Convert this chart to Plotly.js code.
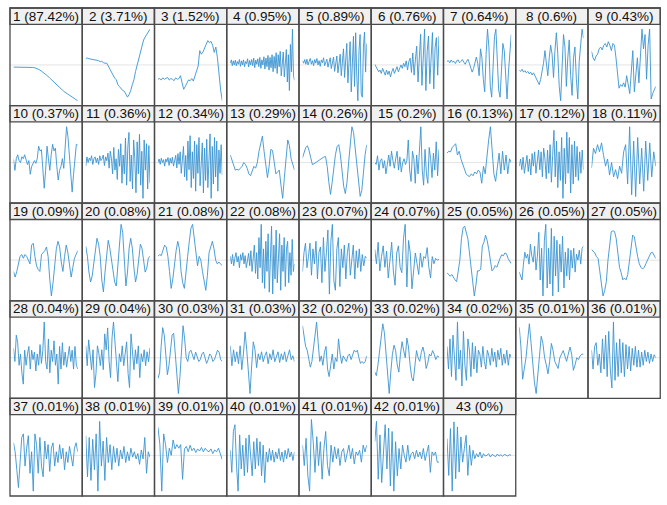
<!DOCTYPE html>
<html><head><meta charset="utf-8">
<script src="https://cdn.plot.ly/plotly-3.0.1.min.js"></script>
<style>html,body{margin:0;padding:0;background:#fff}</style></head>
<body><div id="chart" style="width:667px;height:505px"></div>
<script>
const pct = ["87.42","3.71","1.52","0.95","0.89","0.76","0.64","0.6","0.43","0.37","0.36","0.34","0.29","0.26","0.2","0.13","0.12","0.11","0.09","0.08","0.08","0.08","0.07","0.07","0.05","0.05","0.05","0.04","0.04","0.03","0.03","0.02","0.02","0.02","0.01","0.01","0.01","0.01","0.01","0.01","0.01","0.01","0"];

const s1 = [-0.06,-0.06,-0.05,-0.06,-0.06,-0.06,-0.06,-0.06,-0.07,-0.07,-0.08,-0.1,-0.13,-0.17,-0.21,-0.26,-0.31,-0.37,-0.43,-0.48,-0.54,-0.6,-0.66,-0.71,-0.76,-0.8,-0.85,-0.9,-0.94,-0.97,-1.0];
const s2 = [0.2,0.21,0.19,0.18,0.17,0.17,0.15,0.14,0.13,0.1,0.11,0.07,0.05,0.06,-0.03,-0.12,-0.22,-0.33,-0.4,-0.45,-0.6,-0.66,-0.72,-0.78,-0.8,-0.88,-0.98,-0.9,-0.78,-0.6,-0.45,-0.2,0.0,0.2,0.4,0.6,0.76,0.85,0.92,1.0,1.09];
const s3 = [-0.4,-0.38,-0.42,-0.36,-0.4,-0.38,-0.35,-0.42,-0.38,-0.4,-0.44,-0.36,-0.4,-0.38,-0.3,-0.5,-0.68,-0.6,-0.5,-0.42,-0.44,-0.38,-0.45,-0.32,-0.18,-0.03,0.4,0.3,0.36,0.5,0.58,0.68,0.62,0.66,0.55,0.35,0.5,0.2,-0.3,-0.7,-1.0];
const s4 = [0.05,0.15,-0.02,0.12,0.0,0.14,-0.03,0.1,0.02,0.16,-0.04,0.12,0.0,0.15,-0.05,0.1,0.04,0.18,-0.06,0.13,0.0,0.16,-0.02,0.2,-0.08,0.14,0.02,0.18,-0.05,0.22,-0.1,0.15,0.0,0.24,-0.12,0.2,-0.05,0.28,-0.15,0.22,-0.08,0.3,-0.2,0.25,-0.1,0.36,-0.25,0.3,-0.05,0.4,-0.32,0.2,0.38,-0.35,0.1,0.45,-0.5,0.3,-0.75,0.6,-0.2,1.05,-0.3,-0.45];
const s5 = [0.12,0.05,0.15,0.02,0.16,0.0,0.1,0.18,0.02,0.12,-0.02,0.15,0.05,0.18,0.0,0.12,-0.04,0.14,0.06,0.2,-0.02,0.1,0.16,-0.06,0.08,0.2,-0.1,0.05,0.22,-0.18,0.1,0.25,-0.22,0.0,0.3,-0.3,0.15,0.45,-0.35,0.2,0.6,-0.5,0.1,0.65,-0.75,0.3,0.8,-0.6,0.9,-0.3,-1.0,0.4,0.85,-0.8,-0.9,0.5,0.92,-0.2,0.6];
const s6 = [0.02,-0.05,-0.12,-0.2,-0.15,-0.25,-0.1,-0.22,-0.3,-0.15,-0.28,-0.18,-0.35,-0.2,-0.1,-0.25,-0.12,-0.05,-0.2,-0.08,0.0,-0.1,0.05,-0.05,0.12,-0.15,0.1,0.2,-0.22,0.35,-0.3,0.15,0.55,-0.5,0.3,0.9,-0.6,0.2,1.05,-0.75,0.4,0.85,-0.55,0.2,0.95,-0.7,0.5,0.8,-0.3,0.85];
const s7 = [0.1,0.12,0.06,0.14,0.08,0.1,0.04,0.12,0.14,0.06,0.1,0.15,0.08,0.02,0.1,0.16,0.05,-0.05,-0.2,-0.1,0.1,0.22,0.05,-0.3,0.45,0.2,-0.4,-0.75,0.3,1.0,0.5,-0.6,-0.9,0.2,0.8,1.0,0.2,-0.7,-0.9,-0.3,0.6,0.4,-0.5,-0.95,-0.2,0.5,0.85];
const s8 = [-0.15,-0.18,-0.12,-0.2,-0.16,-0.22,-0.18,-0.25,-0.2,-0.28,-0.22,-0.3,-0.35,-0.45,-0.55,-0.4,-0.2,0.05,0.4,0.1,-0.3,0.2,0.55,0.3,-0.35,0.4,0.9,0.3,-0.6,-1.0,0.1,0.85,0.5,-0.6,0.2,0.7,-0.3,-0.85,0.2,0.5,-0.4,-0.95,0.1,0.7,1.0,0.75];
const s9 = [0.38,0.2,0.12,0.25,0.3,0.45,0.5,0.42,0.55,0.6,0.5,0.65,0.55,0.4,0.6,0.55,0.2,-0.3,-0.65,-0.55,-0.6,-0.5,-0.62,-0.3,-0.6,-0.8,-0.2,0.4,-0.75,-0.3,0.2,-0.5,0.3,1.0,0.45,0.85,-0.4,0.55,1.0,-0.95,-0.8,-0.7,-0.6];
const s10 = [0.08,-0.2,0.1,0.2,0.05,0.0,0.15,0.1,0.2,0.05,-0.05,0.05,-0.3,-0.1,0.0,0.05,-0.02,0.1,0.42,0.3,0.33,-0.2,-0.66,-0.2,0.42,0.1,-0.2,0.2,0.47,0.3,0.37,-0.1,-0.45,-0.2,-0.1,0.1,-0.15,0.4,0.92,0.66,0.2,-0.4,-0.76,-0.3,0.2,0.47,0.45];
const s11 = [-0.1,0.15,0.0,0.12,0.05,0.18,-0.05,0.1,0.15,0.0,0.12,-0.05,0.18,0.05,0.1,0.2,-0.08,0.15,0.05,0.25,-0.15,0.3,0.1,-0.3,0.4,-0.2,0.1,-0.45,0.35,-0.1,0.5,-0.55,0.2,-0.3,0.65,-0.6,0.4,0.8,-0.5,0.2,-0.7,0.6,0.1,-0.8,0.55,-0.3,0.75,-0.6,0.3,-0.95,0.6,-0.2,0.5,-0.7,0.45,-0.55];
const s12 = [0.0,0.1,-0.05,0.12,0.0,0.08,-0.1,0.1,0.02,0.14,-0.08,0.12,-0.02,0.15,-0.1,0.05,0.2,-0.15,0.25,-0.05,0.3,-0.3,0.15,0.45,-0.4,0.2,-0.5,0.6,-0.2,0.75,-0.7,0.3,-0.45,0.6,-0.8,0.5,-0.3,0.7,-0.65,0.2,0.55,-0.85,0.4,-0.5,0.65,-0.7,0.3,0.8,-1.0,0.45,-0.6,0.7,-0.4,0.6,-0.8,0.35,-0.3,0.5,-0.35];
const s13 = [0.2,0.05,-0.05,-0.2,-0.18,-0.2,-0.15,-0.1,0.0,-0.05,-0.15,-0.3,-0.35,-0.2,-0.1,-0.15,0.0,0.3,0.55,0.7,0.3,-0.1,-0.4,-0.1,0.35,0.32,0.0,-0.3,-0.25,-0.2,-0.6,-0.95,-0.4,0.2,0.6,0.45,0.1,-0.05,-0.2];
const s14 = [0.12,0.25,0.38,0.42,0.3,0.12,-0.05,-0.03,0.0,0.03,0.06,0.08,0.1,0.14,0.15,-0.1,-0.5,-0.8,-0.5,-0.1,0.2,0.4,0.45,0.2,-0.2,-0.6,-0.78,-0.5,0.0,0.5,0.9,0.75,0.35,-0.1,-0.5,-0.85,-0.7,-0.2,0.2,0.45];
const s15 = [0.0,-0.05,0.18,-0.2,0.05,0.1,-0.15,0.05,-0.3,0.0,0.2,-0.1,0.3,0.05,-0.15,0.1,0.3,-0.2,0.15,-0.25,0.0,0.1,-0.05,0.05,0.6,-0.2,-0.5,0.3,0.1,-0.55,0.2,-0.3,0.5,0.95,-0.2,-0.6,0.35,-0.3,-0.55,0.4,0.1,-0.4,0.25,-0.2,0.55,-0.35,0.35];
const s16 = [0.25,0.3,0.28,0.4,0.45,0.5,0.2,0.3,0.1,-0.05,-0.15,-0.3,-0.35,-0.37,-0.3,-0.35,-0.25,-0.3,-0.2,-0.25,-0.55,-0.1,-0.3,0.2,0.6,0.95,0.2,-0.3,-0.5,-0.1,0.25,-0.3,0.3,-0.2,0.2,-0.3,0.1,0.0];
const s17 = [-0.1,0.1,-0.2,0.15,-0.3,0.05,0.2,-0.25,0.1,-0.35,0.25,-0.1,0.3,-0.3,0.15,0.35,-0.2,0.3,-0.4,0.4,0.1,-0.45,0.35,-0.3,0.5,-0.55,0.2,0.9,-0.4,0.6,-0.7,0.3,-0.5,0.7,-1.0,0.4,-0.6,0.85,-0.3,0.7,-0.85,0.5,-0.6,0.6,-0.4,0.45,-0.5,0.3,-0.3,0.35,-0.2];
const s18 = [-0.15,0.4,0.25,0.5,0.3,0.55,0.2,-0.1,0.1,-0.35,0.0,-0.4,-0.2,-0.45,-0.1,-0.3,0.3,0.5,-0.6,1.0,-0.9,0.6,-0.95,0.7,-0.6,0.4,-0.8,0.6,-0.5,0.55,-0.4,0.3,-0.1];
const s19 = [-0.3,-0.45,-0.3,-0.05,0.1,0.15,0.05,0.15,0.1,0.0,-0.1,0.4,0.45,0.1,-0.15,-0.25,-0.3,0.15,0.2,0.25,0.35,0.1,-0.5,-0.95,-0.6,-0.2,0.3,0.5,0.35,-0.05,-0.3,0.1,0.4,0.2,-0.2,-0.45,-0.2,0.05,0.15,0.25];
const s20 = [0.35,0.1,-0.3,-0.55,-0.4,-0.1,0.25,0.55,0.4,0.1,-0.5,-0.8,-0.3,0.2,0.5,0.3,0.05,-0.3,-0.55,-0.65,-0.2,0.4,0.9,0.7,0.1,-0.65,-0.3,0.3,0.55,0.3,-0.2,-0.55,-0.35,0.05,0.4,0.3,-0.05,-0.3,-0.2,0.05,0.1];
const s21 = [0.1,0.15,0.12,0.25,0.4,0.35,0.1,-0.3,-0.75,-0.5,-0.1,0.25,0.5,0.3,-0.3,-0.6,-0.75,-0.4,0.1,0.5,0.85,0.95,0.6,0.1,-0.15,0.1,0.0,-0.3,-0.6,-0.8,-0.4,0.2,0.35,0.5,0.3,0.0,-0.1,-0.05,-0.1,-0.15];
const s22 = [0.1,-0.1,0.15,-0.15,0.05,0.2,-0.05,0.1,-0.2,0.15,0.0,0.2,-0.1,0.12,-0.2,0.05,0.18,-0.15,0.25,-0.3,0.1,0.4,-0.35,0.2,-0.5,0.6,-0.2,0.95,-0.6,0.3,-0.75,0.5,-0.3,0.7,-0.85,0.2,0.9,-0.9,0.4,-0.5,0.8,-0.6,0.2,0.7,-0.8,0.4,-0.3,0.6,-0.7,0.3,0.5,-0.6,0.2,-0.4,0.55,-0.3,-0.1];
const s23 = [-0.3,0.2,0.45,-0.2,0.1,0.45,-0.4,0.3,-0.1,0.5,-0.5,0.2,0.35,-0.6,0.6,-0.3,0.2,0.8,-0.9,0.5,0.95,-0.55,-0.8,0.3,0.6,-0.7,0.3,-0.2,0.4,-0.5,0.2,0.45,-0.4,0.1,0.4,-0.5,0.25,-0.2,0.3,-0.3,0.15,-0.15,0.1,0.05];
const s24 = [0.3,-0.1,0.5,-0.3,0.1,0.4,-0.2,0.25,-0.5,0.1,0.5,-0.3,-0.7,0.2,0.4,-0.2,-0.35,0.6,1.0,-0.75,0.55,0.2,-0.8,-0.3,0.2,-0.1,-0.4,0.2,-0.2,0.1,0.05,0.35,-0.2,-0.5,0.1,-0.1,0.05,0.0,0.02];
const s25 = [-0.35,-0.4,-0.45,-0.4,-0.5,-0.55,-0.6,-0.35,0.0,0.6,0.9,0.95,0.8,0.6,0.2,-0.25,-0.7,-1.0,-0.7,-0.3,-0.3,-0.25,0.4,0.5,0.7,0.55,0.3,0.0,-0.3,-0.25,-0.15,-0.2,-0.05,0.05,0.15,0.12,0.2,0.18,0.05,-0.05,-0.1];
const s26 = [-0.3,-0.4,-0.5,-0.1,0.2,0.05,0.15,-0.1,0.4,0.1,-0.05,0.35,-0.25,0.1,0.7,-0.5,0.3,-0.9,0.5,0.9,-0.7,0.3,-0.6,0.8,-0.9,0.6,-0.4,0.5,-0.8,0.4,-0.3,0.6,-0.7,0.2,-0.4,0.3,-0.5,0.25,-0.2,0.3,-0.3,0.15,0.0,0.25,-0.1,0.3,0.35];
const s27 = [0.3,0.25,0.2,0.1,0.05,-0.3,-0.7,-1.0,-0.85,-0.6,0.0,0.4,0.8,0.82,0.8,0.6,0.2,-0.2,-0.35,-0.55,-0.5,-0.55,-0.4,0.0,0.3,0.7,0.65,0.3,0.1,-0.1,-0.2,-0.25,-0.2,-0.1,0.0,0.1,0.2,0.22,0.15,0.05];
const s28 = [0.25,-0.1,0.6,0.4,-0.2,0.1,-0.4,-0.7,0.2,-0.2,0.1,0.3,-0.3,0.2,-0.05,0.15,-0.35,0.1,-0.2,0.35,-0.15,0.2,0.95,-0.1,-0.3,0.5,-0.4,0.2,-0.1,0.45,-0.2,0.1,-0.7,0.3,-0.3,0.4,-0.2,0.15,-0.25,0.1,0.3,-0.1,0.2,-0.3,0.3,-0.2,-0.3];
const s29 = [0.3,-0.2,0.45,0.1,-0.3,0.2,-0.75,-0.4,0.3,0.1,-0.2,0.2,-0.3,0.6,0.2,0.75,-0.1,-0.5,0.5,0.9,0.4,-0.2,-0.6,0.1,-0.1,0.3,-0.2,0.1,0.4,-0.4,-0.75,0.6,0.1,-0.3,0.2,-0.15,0.3,-0.5,0.1,-0.1,0.2,-0.2,0.15,-0.1,0.25];
const s30 = [-0.55,-0.4,0.3,0.8,0.6,0.0,-0.45,-0.2,0.2,0.6,0.65,0.1,-0.5,-0.95,-0.5,0.3,0.85,0.5,0.0,-0.1,0.15,0.2,0.05,-0.05,0.15,0.05,-0.1,-0.05,0.1,0.15,0.0,-0.15,-0.05,0.1,0.05,-0.1,-0.05,0.1,0.2,0.15,-0.05,-0.1];
const s31 = [0.3,-0.2,0.2,-0.1,0.15,-0.15,0.3,-0.3,0.1,0.65,0.2,-0.4,-0.9,-0.2,0.4,0.2,-0.25,0.1,-0.05,0.15,-0.1,0.05,0.15,-0.15,0.1,-0.05,0.2,-0.1,0.05,0.15,-0.12,0.1,-0.05,0.15,-0.1,0.08,0.2,-0.05,0.05,-0.1];
const s32 = [0.85,0.6,0.3,0.2,0.0,-0.25,-0.1,0.3,0.6,0.95,0.4,-0.1,0.05,-0.2,0.15,0.3,-0.3,-0.5,-0.2,0.1,-0.3,0.0,-0.1,0.5,0.1,-0.15,0.05,-0.05,-0.1,0.05,0.1,-0.05,0.05,0.2,0.15,0.2,0.0,-0.15,-0.1,-0.15,-0.1,0.05];
const s33 = [-0.4,-0.5,-0.2,0.2,0.6,0.95,0.7,0.1,-0.6,-1.0,-0.4,0.1,0.35,0.2,-0.2,-0.4,0.1,0.45,0.2,0.0,0.55,0.3,-0.2,-0.55,-0.65,-0.2,0.2,0.0,-0.1,0.15,0.3,0.1,-0.3,-0.15,0.1,0.05,0.2,0.1,-0.05,0.05,0.02];
const s34 = [0.3,-0.3,0.5,-0.5,0.6,-0.1,-0.6,0.95,-0.3,0.2,-0.75,0.7,-0.2,-0.6,0.5,0.2,-0.5,0.4,-0.3,0.3,-0.4,0.2,0.1,-0.25,0.3,-0.1,-0.3,0.2,0.05,-0.2,0.25,-0.1,0.15,-0.25,0.2,-0.05,0.25,-0.2,0.1,-0.15,0.2,-0.2,0.1,0.0];
const s35 = [0.85,0.3,-0.6,-0.3,0.0,0.5,0.95,0.4,-0.3,-0.7,-1.0,-0.4,0.1,0.6,0.4,0.0,-0.2,-0.45,-0.1,0.4,0.2,-0.1,-0.2,-0.3,0.0,0.1,0.2,0.05,-0.1,0.1,0.3,0.1,-0.35,-0.2,0.0,-0.05,0.05,0.1,0.1];
const s36 = [0.2,-0.3,0.3,0.4,-0.2,0.1,-0.4,0.5,-0.3,0.6,-0.5,0.7,-0.3,-0.8,0.95,-0.6,0.4,-0.5,0.5,-0.4,0.4,-0.5,0.35,-0.3,0.3,-0.35,0.25,-0.2,0.3,-0.25,0.2,-0.25,0.15,-0.2,0.2,-0.1,0.15,-0.15,0.1,-0.1,0.08,0.0];
const s37 = [0.35,0.1,-0.4,-0.9,-0.2,0.5,0.6,-0.3,0.2,0.55,-0.5,0.1,-1.0,0.6,0.3,-0.5,0.5,-0.3,-0.6,0.4,-0.1,0.3,-0.45,0.2,0.35,-0.3,0.1,-0.2,0.3,-0.1,0.2,-0.4,0.1,-0.2,0.25,0.0,-0.3,0.2,0.35,0.1];
const s38 = [0.55,-0.6,0.5,-0.7,0.45,-0.4,0.6,-1.0,0.95,-0.3,0.4,-0.7,0.5,-0.2,0.3,-0.4,0.25,-0.2,0.2,-0.3,0.15,-0.1,0.25,-0.2,0.1,-0.15,0.2,-0.05,0.1,-0.1,0.05,-0.25,0.15,-0.1,0.5,-0.5,0.1,-0.05];
const s39 = [0.78,0.3,-1.0,0.6,0.3,-0.2,0.2,0.0,0.43,0.18,0.3,0.2,0.3,-0.67,0.18,0.25,0.1,0.28,0.13,0.2,0.08,0.18,0.12,0.22,0.1,0.2,0.13,0.1,0.18,0.05,0.15,0.1,0.2,0.05,-0.12];
const s40 = [0.15,-0.5,0.7,0.9,-0.3,-1.05,0.6,-0.4,0.3,-0.6,0.5,-0.5,0.6,0.1,-0.6,0.4,-0.4,0.5,-0.3,0.4,-0.6,0.3,-0.8,0.1,-0.2,0.2,-0.15,0.15,-0.2,0.1,-0.1,0.2,-0.15,0.1,-0.2,0.15,-0.1,0.2,-0.05,0.1,-0.15,0.1];
const s41 = [0.3,-0.3,0.5,-0.6,-1.05,1.05,0.4,-0.5,0.55,-0.3,0.4,-0.7,0.2,0.7,-0.3,-0.6,0.3,-0.2,0.25,-0.1,0.2,-0.3,0.1,0.2,-0.2,0.1,0.3,-0.1,0.2,-0.25,0.1,0.0,0.15,-0.2,0.3,0.1,0.3];
const s42 = [0.4,1.0,-0.7,0.6,-0.8,0.2,0.9,-0.4,0.8,-0.9,0.7,-1.05,0.4,-0.6,0.2,-0.4,0.3,0.0,-0.2,0.3,-0.15,0.05,0.1,-0.1,0.15,-0.05,0.1,-0.1,0.2,-0.15,0.1,0.3,-0.5,0.1,0.0,0.1,-0.2,-0.2];
const s43 = [0.5,-0.6,0.8,-1.07,1.0,-0.7,0.85,-0.5,0.55,-0.2,0.2,0.6,-0.6,0.3,-0.3,0.15,-0.1,0.05,-0.05,0.1,-0.08,0.05,-0.02,0.0,0.05,-0.05,0.03,0.0,-0.04,0.04,-0.02,0.02,-0.03,0.03,0.0,-0.02,0.02,0.0];

const series = [s1,s2,s3,s4,s5,s6,s7,s8,s9,s10,s11,s12,s13,s14,s15,s16,s17,s18,s19,s20,s21,s22,s23,s24,s25,s26,s27,s28,s29,s30,s31,s32,s33,s34,s35,s36,s37,s38,s39,s40,s41,s42,s43];

const W = 667, H = 505, X0 = 10, Y0 = 8, CW = 72.25, RH = 97.6, HH = 16.3, NC = 9;
const data = [], shapes = [], annotations = [];
const layout = {width: W, height: H, margin: {l:0,r:0,t:0,b:0}, paper_bgcolor:'#fff', plot_bgcolor:'rgba(0,0,0,0)', showlegend:false};

series.forEach((v, i) => {
  const c = i % NC, r = Math.floor(i / NC);
  const L = X0 + c * CW, R = L + CW, T = Y0 + r * RH, B = T + RH, HB = T + HH;
  const k = i + 1, sfx = k === 1 ? '' : String(k);
  const m = Math.max(...v.map(Math.abs));
  data.push({type:'scatter', mode:'lines', x: v.map((_, j) => j), y: v, xaxis:'x'+sfx, yaxis:'y'+sfx,
    line:{color:'#3a94d2', width:0.9}, hoverinfo:'skip'});
  layout['xaxis'+sfx] = {domain:[(L+3.5)/W, (R-4.5)/W], range:[0, v.length-1], visible:false, fixedrange:true};
  layout['yaxis'+sfx] = {domain:[1-(B-2)/H, 1-(HB+2)/H], range:[-1.08*m, 1.08*m], visible:false, fixedrange:true};
  shapes.push({type:'line', xref:'paper', yref:'y'+sfx, x0:L/W, x1:R/W, y0:0, y1:0, line:{color:'#e4e4e4', width:1}, layer:'below'});
  shapes.push({type:'rect', xref:'paper', yref:'paper', x0:L/W, x1:R/W, y0:1-HB/H, y1:1-T/H, fillcolor:'#f0f0f0', line:{color:'#4a4a4a', width:1.3}});
  shapes.push({type:'rect', xref:'paper', yref:'paper', x0:L/W, x1:R/W, y0:1-B/H, y1:1-T/H, line:{color:'#4a4a4a', width:1.3}});
  annotations.push({xref:'paper', yref:'paper', x:(L+R)/2/W, y:1-(T+HB)/2/H, xanchor:'center', yanchor:'middle',
    text: k + ' (' + pct[i] + '%)', showarrow:false, font:{family:'Liberation Sans, Arial, sans-serif', size:13.5, color:'#111'}});
});
layout.shapes = shapes;
layout.annotations = annotations;
Plotly.newPlot('chart', data, layout, {displayModeBar:false, staticPlot:true});
</script></body></html>
